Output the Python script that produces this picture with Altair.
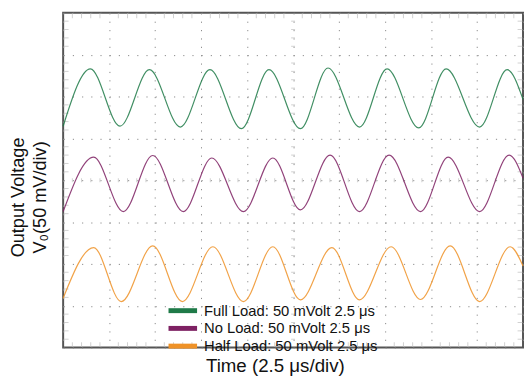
import altair as alt
import pandas as pd

FONT = "Liberation Sans, Arial, sans-serif"

series = ["Full Load: 50 mVolt 2.5 μs", "No Load: 50 mVolt 2.5 μs", "Half Load: 50 mVolt 2.5 μs"]
colors = ["#1f7a48", "#7e2163", "#ef9227"]

# time in microseconds, voltage in divisions (50 mV/div)
full_t = [0.0, 1.48, 3.09, 4.69, 6.37, 7.98, 9.69, 11.19, 12.90, 14.40, 16.11, 17.61, 19.33, 20.82, 22.64, 24.14, 25.0]
full_v = [5.29, 6.66, 5.29, 6.64, 5.27, 6.64, 5.23, 6.64, 5.23, 6.68, 5.27, 6.66, 5.25, 6.66, 5.27, 6.64, 5.93]

no_t = [0.0, 1.66, 3.27, 4.87, 6.53, 8.08, 9.80, 11.40, 12.90, 14.51, 16.11, 17.72, 19.43, 20.93, 22.64, 24.25, 25.0]
no_v = [3.25, 4.55, 3.25, 4.59, 3.25, 4.53, 3.25, 4.53, 3.29, 4.60, 3.25, 4.60, 3.25, 4.55, 3.25, 4.60, 4.05]

half_t = [0.0, 1.66, 3.16, 4.87, 6.48, 8.14, 9.80, 11.40, 12.90, 14.61, 16.11, 17.83, 19.43, 21.04, 22.64, 24.30, 25.0]
half_v = [1.18, 2.39, 1.10, 2.43, 1.10, 2.41, 1.10, 2.41, 1.14, 2.39, 1.14, 2.41, 1.15, 2.43, 1.10, 2.41, 1.95]

x_ticks = [0, 2.5, 5, 7.5, 10, 12.5, 15, 17.5, 20, 22.5, 25]
y_ticks = [0, 1, 2, 3, 4, 5, 6, 7, 8]

# oscilloscope minor graticule positions (5 per division)
x_minor = [0.5, 1, 1.5, 2, 3, 3.5, 4, 4.5, 5.5, 6, 6.5, 7, 8, 8.5, 9, 9.5,
           10.5, 11, 11.5, 12, 13, 13.5, 14, 14.5, 15.5, 16, 16.5, 17, 18, 18.5, 19, 19.5,
           20.5, 21, 21.5, 22, 23, 23.5, 24, 24.5]
y_minor = [0.2, 0.4, 0.6, 0.8, 1.2, 1.4, 1.6, 1.8, 2.2, 2.4, 2.6, 2.8, 3.2, 3.4, 3.6, 3.8,
           4.2, 4.4, 4.6, 4.8, 5.2, 5.4, 5.6, 5.8, 6.2, 6.4, 6.6, 6.8, 7.2, 7.4, 7.6, 7.8]
x_center = 12.5
y_center = 4
x_edges = [0, 25]
y_edges = [0, 8]

rows = []
for name, ts, vs in zip(series, [full_t, no_t, half_t], [full_v, no_v, half_v]):
    for t, v in zip(ts, vs):
        rows.append({"t": t, "v": v, "series": name})
df = pd.DataFrame(rows)

xs = alt.Scale(domain=[0, 25], nice=False, zero=False)
ys = alt.Scale(domain=[0, 8], nice=False, zero=False)
TICK_COLOR = "#bdbdbd"

x_axis = alt.Axis(values=x_ticks, labels=False, ticks=False, domain=False,
                  grid=True, gridDash=[1.2, 7.3], gridColor="#8a8a8a", gridWidth=1,
                  title="Time (2.5 μs/div)", titleFont=FONT, titleFontSize=19,
                  titleFontWeight="normal", titleColor="#111111", titlePadding=9,
                  titleX=215)
y_axis = alt.Axis(values=y_ticks, labels=False, ticks=False, domain=False,
                  grid=True, gridDash=[1.2, 8.14], gridColor="#8a8a8a", gridWidth=1,
                  title=["Output Voltage", "V₀(50 mV/div)"], titleFont=FONT,
                  titleFontSize=18.4, titleFontWeight="normal", titleColor="#111111",
                  titlePadding=14, titleLineHeight=22, titleY=187)

ydf = pd.DataFrame({"v": y_minor})
xdf = pd.DataFrame({"t": x_minor})

# minor ticks on the vertical centre line and on the left/right edges
vt_center = alt.Chart(ydf).mark_tick(orient="horizontal", size=4, thickness=1, color=TICK_COLOR).encode(
    x=alt.datum(x_center, scale=xs, axis=x_axis), y=alt.Y("v:Q", scale=ys, axis=y_axis))
vt_left = alt.Chart(ydf).mark_tick(orient="horizontal", size=5, thickness=1, color=TICK_COLOR, xOffset=3).encode(
    x=alt.datum(x_edges[0], scale=xs), y=alt.Y("v:Q", scale=ys))
vt_right = alt.Chart(ydf).mark_tick(orient="horizontal", size=5, thickness=1, color=TICK_COLOR, xOffset=-3).encode(
    x=alt.datum(x_edges[1], scale=xs), y=alt.Y("v:Q", scale=ys))
# minor ticks on the horizontal centre line and on the top/bottom edges
ht_center = alt.Chart(xdf).mark_tick(orient="vertical", size=4, thickness=1, color=TICK_COLOR).encode(
    x=alt.X("t:Q", scale=xs), y=alt.datum(y_center, scale=ys))
ht_bottom = alt.Chart(xdf).mark_tick(orient="vertical", size=5, thickness=1, color=TICK_COLOR, yOffset=-3).encode(
    x=alt.X("t:Q", scale=xs), y=alt.datum(y_edges[0], scale=ys))
ht_top = alt.Chart(xdf).mark_tick(orient="vertical", size=5, thickness=1, color=TICK_COLOR, yOffset=3).encode(
    x=alt.X("t:Q", scale=xs), y=alt.datum(y_edges[1], scale=ys))

lines = alt.Chart(df).mark_line(interpolate="monotone", strokeWidth=1.2, opacity=0.85).encode(
    x=alt.X("t:Q", scale=xs, axis=x_axis),
    y=alt.Y("v:Q", scale=ys, axis=y_axis),
    color=alt.Color("series:N",
                    scale=alt.Scale(domain=series, range=colors),
                    legend=alt.Legend(title=None, orient="none", legendX=114, legendY=295,
                                      symbolType="M-2.9,0H2.9", symbolStrokeWidth=5, symbolSize=100,
                                      symbolOpacity=1, labelFont=FONT, labelFontSize=15,
                                      labelColor="#111111", labelOffset=14, rowPadding=-4.5,
                                      padding=0, labelLimit=400)),
)

chart = alt.layer(vt_center, vt_left, vt_right, ht_center, ht_bottom, ht_top, lines).properties(
    width=467, height=340,
    autosize=alt.AutoSizeParams(type="none"),
    padding={"left": 56, "top": 2, "right": 1, "bottom": 27},
).configure_view(stroke="#555555", strokeWidth=2)

chart.save("out.html", embed_options={"renderer": "svg", "actions": False})
